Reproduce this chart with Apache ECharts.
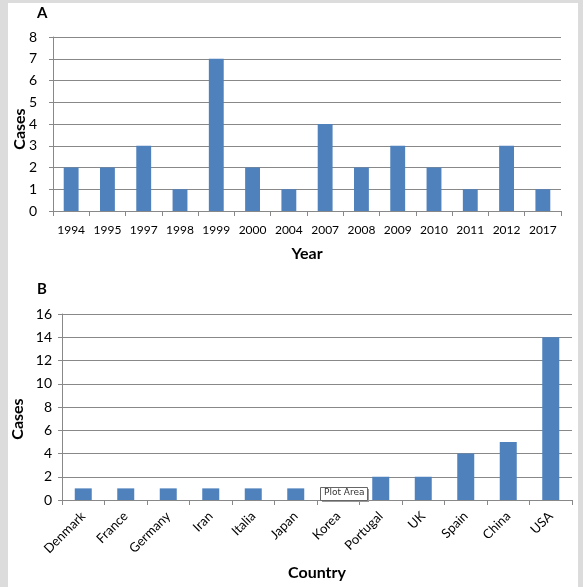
<!DOCTYPE html>
<html><head><meta charset="utf-8">
<script src="https://cdn.jsdelivr.net/npm/echarts@6/dist/echarts.min.js"></script>
<style>
html,body{margin:0;padding:0;background:#dcdcdc;}
#frame{position:absolute;left:8px;top:3px;width:570px;height:584px;background:#fff;}
#chart{position:absolute;left:0;top:0;width:583px;height:587px;}
</style></head>
<body>
<div id="frame"></div>
<div id="chart"></div>
<script>
const yearCategories = ['1994','1995','1997','1998','1999','2000','2004','2007','2008','2009','2010','2011','2012','2017'];
const yearCases = [2,2,3,1,7,2,1,4,2,3,2,1,3,1];
const countryCategories = ['Denmark','France','Germany','Iran','Italia','Japan','Korea','Portugal','UK','Spain','China','USA'];
const countryCases = [1,1,1,1,1,1,1,2,2,4,5,14];
const yTicksA = {min:0,max:8,interval:1};
const yTicksB = {min:0,max:16,interval:2};

const FONT = 'Lato, "Open Sans", sans-serif';
const axisCol = '#888';
const barCol = '#4f81bd';

function yAxis(gi, t){
  return {
    type:'value', gridIndex:gi, min:t.min, max:t.max, interval:t.interval,
    name:'Cases', nameLocation:'middle', nameGap: gi===0 ? 25 : 36, nameRotate:90,
    nameMoveOverlap:false,
    nameTextStyle:{fontFamily:FONT, fontWeight:'bold', fontSize:16, color:'#000',
                   padding: gi===0 ? [0,10,0,0] : [0,24,0,0]},
    axisLine:{show:true, lineStyle:{color:axisCol, width:1}},
    axisTick:{show:true, length:4, lineStyle:{color:axisCol}},
    axisLabel:{fontFamily:FONT, fontSize:14, color:'#000', margin: gi===0 ? 16 : 10},
    splitLine:{show:true, lineStyle:{color:axisCol, width:1}}
  };
}

const chart = echarts.init(document.getElementById('chart'));
chart.setOption({
  backgroundColor:'transparent',
  animation:false,
  graphic:[
    {type:'text', left:37, top:6, style:{text:'A', fontFamily:FONT, fontWeight:'bold', fontSize:15, fill:'#000'}},
    {type:'text', left:37, top:282, style:{text:'B', fontFamily:FONT, fontWeight:'bold', fontSize:15, fill:'#000'}},
    {type:'rect', left:322, top:489, shape:{width:47, height:13}, style:{fill:'#999'}, z:100},
    {type:'rect', left:320, top:487, shape:{width:47, height:13}, style:{fill:'#fff', stroke:'#666', lineWidth:1}, z:101},
    {type:'text', left:324, top:488, style:{text:'Plot Area', fontFamily:'"DejaVu Sans", sans-serif', fontSize:9, fill:'#333'}, z:102}
  ],
  grid:[
    {left:53, top:37, width:508, height:174, containLabel:false, outerBoundsMode:'none'},
    {left:62, top:314, width:510, height:186, containLabel:false, outerBoundsMode:'none'}
  ],
  xAxis:[
    {type:'category', gridIndex:0, data:yearCategories,
     name:'Year', nameLocation:'middle', nameGap:35, nameMoveOverlap:false,
     nameTextStyle:{fontFamily:FONT, fontWeight:'bold', fontSize:16, color:'#000'},
     axisLine:{lineStyle:{color:axisCol}},
     axisTick:{show:true, length:5, lineStyle:{color:axisCol}},
     axisLabel:{fontFamily:FONT, fontSize:12, color:'#000', margin:13, interval:0}},
    {type:'category', gridIndex:1, data:countryCategories,
     name:'Country', nameLocation:'middle', nameGap:65, nameMoveOverlap:false,
     nameTextStyle:{fontFamily:FONT, fontWeight:'bold', fontSize:16, color:'#000'},
     axisLine:{lineStyle:{color:axisCol}},
     axisTick:{show:true, length:5, lineStyle:{color:axisCol}},
     axisLabel:{fontFamily:FONT, fontSize:13, color:'#000', margin:14, rotate:45, interval:0}}
  ],
  yAxis:[yAxis(0,yTicksA), yAxis(1,yTicksB)],
  series:[
    {type:'bar', xAxisIndex:0, yAxisIndex:0, data:yearCases, barWidth:'41%', itemStyle:{color:barCol}},
    {type:'bar', xAxisIndex:1, yAxisIndex:1, data:countryCases, barWidth:'40%', itemStyle:{color:barCol}}
  ]
});
</script>
</body></html>
